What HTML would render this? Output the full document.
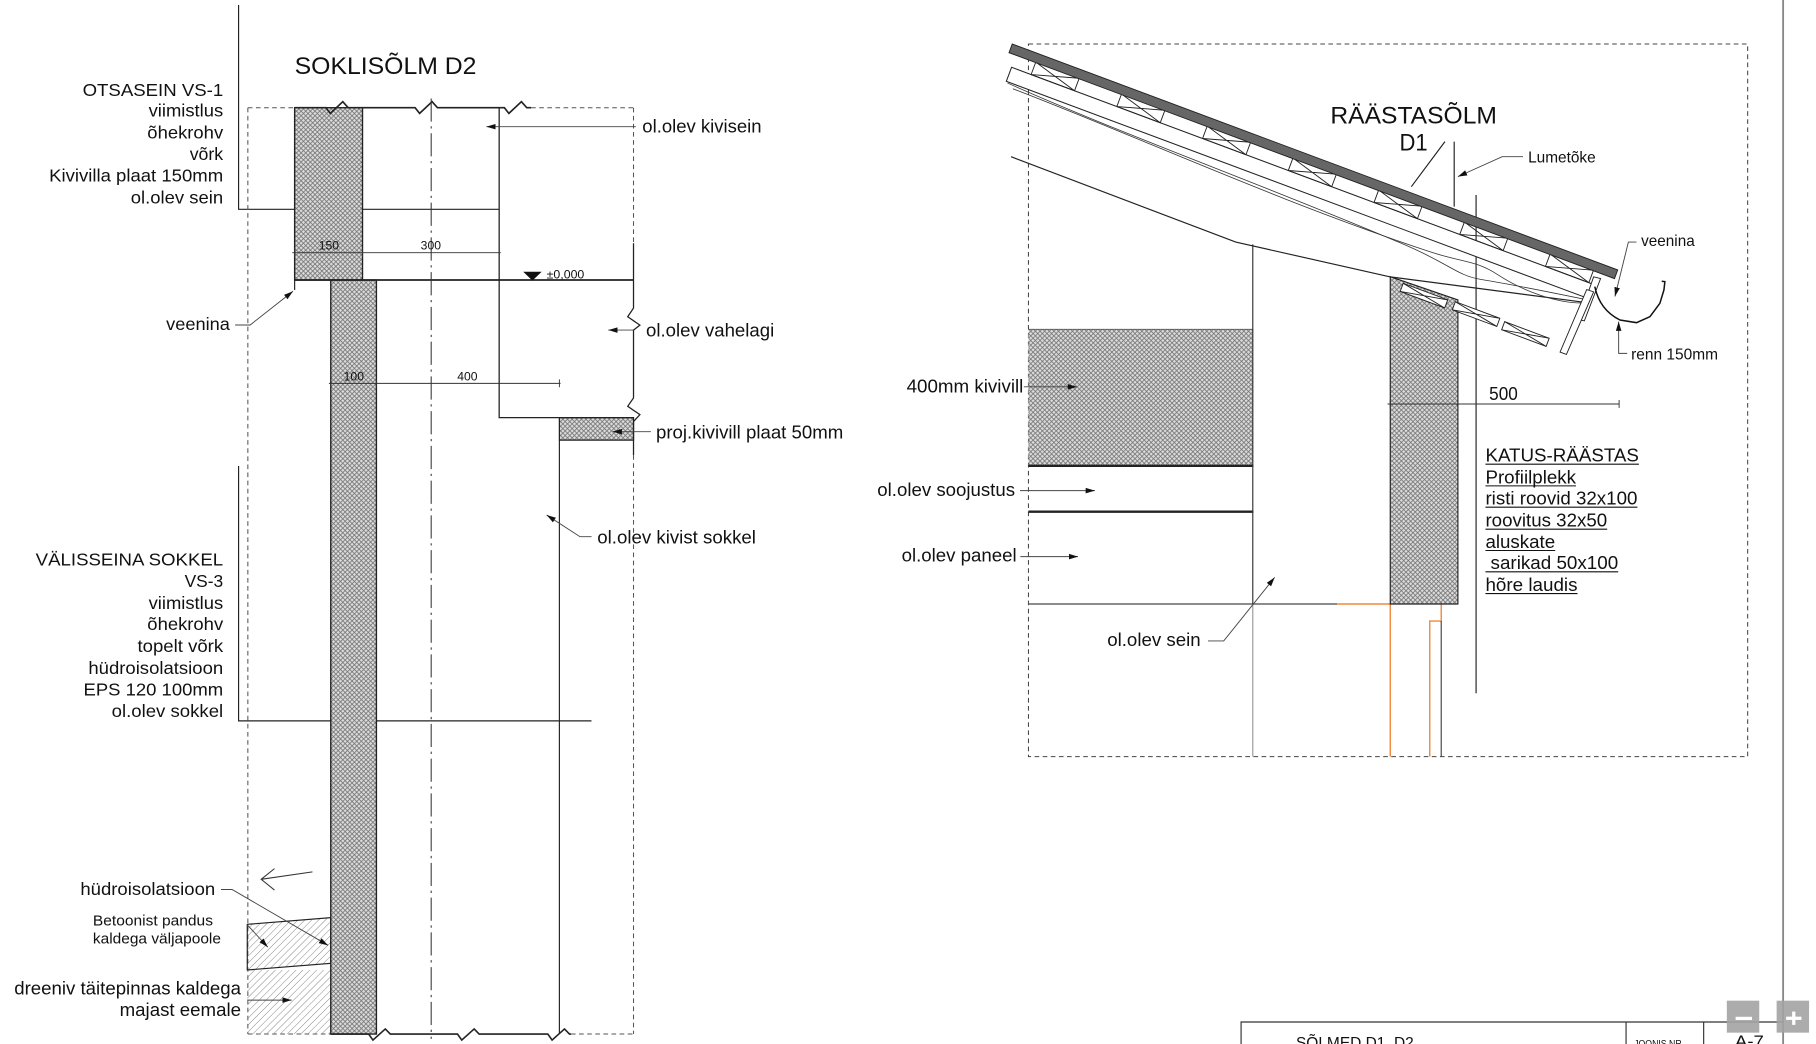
<!DOCTYPE html>
<html><head><meta charset="utf-8"><style>
html,body{margin:0;padding:0;background:#fff;overflow:hidden;}
svg{display:block;}
text{font-family:"Liberation Sans",Arial,sans-serif;fill:#111;}
</style></head><body>
<svg width="1816" height="1044" viewBox="0 0 1568 901.4" preserveAspectRatio="none" xmlns="http://www.w3.org/2000/svg">
<defs>
<pattern id="xh" width="4" height="4" patternUnits="userSpaceOnUse">
 <rect width="4" height="4" fill="#dcdcdc"/>
 <path d="M0,0L4,4M4,0L0,4" stroke="#737373" stroke-width="0.7"/>
</pattern>
<pattern id="dh" width="4.2" height="4.2" patternUnits="userSpaceOnUse" patternTransform="rotate(45)">
 <line x1="0" y1="0" x2="0" y2="4.2" stroke="#777" stroke-width="0.75"/>
</pattern>
<marker id="ah" markerWidth="8" markerHeight="6" refX="8" refY="3" orient="auto" markerUnits="userSpaceOnUse">
 <path d="M0,0.6L8,3L0,5.4z" fill="#111"/>
</marker>
</defs>
<rect width="1568" height="901.4" fill="#fff"/>

<!-- ================= LEFT: SOKLISÕLM D2 ================= -->
<text x="254.4" y="63.9" font-size="21" textLength="157" lengthAdjust="spacingAndGlyphs">SOKLISÕLM D2</text>

<g fill="none" stroke="#222" stroke-width="1">
 <path d="M206,4.3V180.7H431"/>
 <path d="M206,402.4V622.4H510.7"/>
</g>

<g fill="none" stroke="#555" stroke-width="0.9" stroke-dasharray="4 3">
 <path d="M214,93V892.8"/>
 <path d="M547,93V210"/>
 <path d="M547,393V892.8"/>
 <path d="M214,93H254.4"/>
 <path d="M458.6,93H547"/>
 <path d="M214,892.8H285.6"/>
 <path d="M493,892.8H547"/>
</g>

<!-- hatch fills -->
<polygon points="213.5,798.1 285.6,792.3 285.6,831.8 213.5,837.5" fill="url(#dh)" stroke="#222" stroke-width="1"/>
<rect x="213.5" y="837.5" width="72.1" height="55.3" fill="url(#dh)"/>
<rect x="254.4" y="93" width="58.6" height="148.8" fill="url(#xh)" stroke="#222" stroke-width="1.2"/>
<rect x="285.6" y="241.8" width="39.4" height="651" fill="url(#xh)" stroke="#222" stroke-width="1.2"/>
<rect x="483" y="360.6" width="64" height="19.4" fill="url(#xh)" stroke="#222" stroke-width="1.1"/>

<g fill="none" stroke="#222">
 <path stroke-width="1.4" d="M254.4,93H281.3L285.2,97.9L296,87.8L300.6,93H358.4L362.3,97.9L373.1,87.8L377.7,93H435.5L439.4,97.9L450.2,87.8L454.8,93H458.6"/>
 <path stroke-width="1.4" d="M285.6,892.8H318.3L322,898L332.7,888.4L337,892.8H395L398.7,898L409.4,888.4L413.7,892.8H473L476.7,898L487.4,888.4L491.7,892.8H493"/>
 <path stroke-width="1.1" d="M431,93V360.6H547"/>
 <path stroke-width="1.5" d="M254.4,241.8H547"/>
 <path stroke-width="1.1" d="M547,210V266L542,273.5L552.5,280.7L547,285V343.6L542,350.8L552.5,358L547,364V393"/>
 <path stroke-width="1" d="M483,380V892.8"/>
 <path stroke-width="1" d="M254.4,241.8V250.4"/>
</g>
<path d="M372.3,85V897" stroke="#333" stroke-width="0.9" stroke-dasharray="20 4 2 4" fill="none"/>

<!-- dimensions -->
<g stroke="#333" stroke-width="0.8" fill="none">
 <path d="M252.3,218.2H432.4M254.4,214.8v6.8M313,214.8v6.8M431,214.8v6.8"/>
 <path d="M284,331H484M285.6,327.6v6.8M325,327.6v6.8M483,327.6v6.8"/>
</g>
<g font-size="10.5" fill="#333" text-anchor="middle">
 <text x="284" y="215.5">150</text>
 <text x="372" y="215.5">300</text>
 <text x="305.5" y="328.5">100</text>
 <text x="403.6" y="328.5">400</text>
</g>
<polygon points="451.8,234.6 467.7,234.6 459.7,242.3" fill="#111"/>
<text x="472" y="240.4" font-size="10.5" textLength="32.5" lengthAdjust="spacingAndGlyphs">±0,000</text>

<!-- leaders left -->
<g fill="none" stroke="#444" stroke-width="0.8">
 <path d="M203,280.6H216L253,251.5" marker-end="url(#ah)"/>
 <path d="M549,109.4H420" marker-end="url(#ah)"/>
 <path d="M547,285H525.2" marker-end="url(#ah)"/>
 <path d="M562,372.7H529" marker-end="url(#ah)"/>
 <path d="M510.8,463.4H500.8L472,444.7" marker-end="url(#ah)"/>
 <path d="M190.8,768H200.4L283.3,816.2" marker-end="url(#ah)"/>
 <path d="M214,799L231.2,817.8" marker-end="url(#ah)"/>
 <path d="M214,863.5H251.8" marker-end="url(#ah)"/>
 <path d="M269.8,752.8L225.5,759.2M237,750L225.5,759.2L237,768.5" stroke="#333" stroke-width="0.9"/>
</g>

<!-- left labels -->
<g font-size="15" text-anchor="end">
 <text x="192.7" y="82.9" textLength="121.4" lengthAdjust="spacingAndGlyphs">OTSASEIN VS-1</text>
 <text x="192.7" y="100.7" textLength="64.4" lengthAdjust="spacingAndGlyphs">viimistlus</text>
 <text x="192.7" y="119.4" textLength="65.5" lengthAdjust="spacingAndGlyphs">õhekrohv</text>
 <text x="192.7" y="138.1" textLength="28.9" lengthAdjust="spacingAndGlyphs">võrk</text>
 <text x="192.7" y="156.9" textLength="150.3" lengthAdjust="spacingAndGlyphs">Kivivilla plaat 150mm</text>
 <text x="192.7" y="175.6" textLength="79.8" lengthAdjust="spacingAndGlyphs">ol.olev sein</text>
 <text x="198.5" y="285" textLength="55" lengthAdjust="spacingAndGlyphs">veenina</text>
 <text x="192.7" y="488.4" textLength="161.9" lengthAdjust="spacingAndGlyphs">VÄLISSEINA SOKKEL</text>
 <text x="192.7" y="507">VS-3</text>
 <text x="192.7" y="525.8" textLength="64.4" lengthAdjust="spacingAndGlyphs">viimistlus</text>
 <text x="192.7" y="544.1" textLength="65.5" lengthAdjust="spacingAndGlyphs">õhekrohv</text>
 <text x="192.7" y="562.8" textLength="74" lengthAdjust="spacingAndGlyphs">topelt võrk</text>
 <text x="192.7" y="581.8" textLength="116.4" lengthAdjust="spacingAndGlyphs">hüdroisolatsioon</text>
 <text x="192.7" y="600.5" textLength="120.6" lengthAdjust="spacingAndGlyphs">EPS 120 100mm</text>
 <text x="192.7" y="619.1" textLength="96.3" lengthAdjust="spacingAndGlyphs">ol.olev sokkel</text>
 <text x="185.8" y="772.7" textLength="116.4" lengthAdjust="spacingAndGlyphs">hüdroisolatsioon</text>
 <text x="208.1" y="858.7" font-size="16" textLength="195.8" lengthAdjust="spacingAndGlyphs">dreeniv täitepinnas kaldega</text>
 <text x="208.1" y="877.4" font-size="16" textLength="104.8" lengthAdjust="spacingAndGlyphs">majast eemale</text>
</g>
<g font-size="13" fill="#333">
 <text x="80.2" y="799.1" fill="#333" textLength="103.7" lengthAdjust="spacingAndGlyphs">Betoonist pandus</text>
 <text x="80.2" y="814.6" fill="#333" textLength="110.6" lengthAdjust="spacingAndGlyphs">kaldega väljapoole</text>
</g>
<g font-size="16">
 <text x="554.6" y="114.6" textLength="103" lengthAdjust="spacingAndGlyphs">ol.olev kivisein</text>
 <text x="557.8" y="290.7" textLength="110.7" lengthAdjust="spacingAndGlyphs">ol.olev vahelagi</text>
 <text x="566.4" y="378.5" textLength="161.7" lengthAdjust="spacingAndGlyphs">proj.kivivill plaat 50mm</text>
 <text x="515.7" y="469.3" textLength="137" lengthAdjust="spacingAndGlyphs">ol.olev kivist sokkel</text>
</g>

<!-- ================= RIGHT: RÄÄSTASÕLM D1 ================= -->
<rect x="888" y="38" width="621" height="615.3" fill="none" stroke="#444" stroke-width="0.9" stroke-dasharray="4 3"/>
<path d="M1539.6,0V901.4" stroke="#888" stroke-width="1.6"/>

<!-- wall blocks -->
<rect x="888" y="284.3" width="194.2" height="117.7" fill="url(#xh)"/>
<path d="M888,284.3H1082.2" stroke="#555" stroke-width="0.8"/>
<path d="M888,402.2H1082.2M888,441.8H1082.2" stroke="#222" stroke-width="2"/>
<path d="M888,521.5H1154.5" stroke="#666" stroke-width="1.3"/>
<path d="M1154.5,521.5H1200.4V653.3M1244.4,521.5V536.2H1234.5V653.3" stroke="#f0883a" stroke-width="1.2" fill="none"/>
<path d="M1244.4,536.2V653.3" stroke="#444" stroke-width="1"/>
<path d="M1081.7,211V521.5" stroke="#333" stroke-width="1"/>
<path d="M1081.7,521.5V653.3" stroke="#999" stroke-width="1"/>
<polygon points="1200.4,238.9 1258.8,259 1258.8,521.5 1200.4,521.5" fill="url(#xh)" stroke="#222" stroke-width="1"/>
<path d="M1274.5,168.4V598.6" stroke="#222" stroke-width="1"/>

<!-- rafter line -->
<path d="M873,135.3L1067,209L1200,239L1368,261" fill="none" stroke="#222" stroke-width="1"/>

<!-- roof layers -->
<g transform="translate(874,38) rotate(20.46)" fill="none" stroke="#222" stroke-width="0.8">
 <path d="M8,33 C120,40 250,38 380,44 C420,46 430,53 450,49 C470,45 500,40 545,33" stroke="#333" stroke-width="0.7"/>
 <path d="M14,36 C130,37 260,47 400,42 C430,41 440,35 462,40 S520,47 545,35" stroke="#333" stroke-width="0.7"/>
 <rect x="6.5" y="19" width="538.5" height="13" fill="#fff" stroke-width="0.9"/>
 <g>
  <rect x="24.5" y="7.5" width="40" height="11.5"/><path d="M24.5,7.5l40,11.5m0,-11.5l-40,11.5"/>
  <rect x="103.5" y="7.5" width="40" height="11.5"/><path d="M103.5,7.5l40,11.5m0,-11.5l-40,11.5"/>
  <rect x="182.5" y="7.5" width="40" height="11.5"/><path d="M182.5,7.5l40,11.5m0,-11.5l-40,11.5"/>
  <rect x="261.5" y="7.5" width="40" height="11.5"/><path d="M261.5,7.5l40,11.5m0,-11.5l-40,11.5"/>
  <rect x="340.5" y="7.5" width="40" height="11.5"/><path d="M340.5,7.5l40,11.5m0,-11.5l-40,11.5"/>
  <rect x="419.5" y="7.5" width="40" height="11.5"/><path d="M419.5,7.5l40,11.5m0,-11.5l-40,11.5"/>
  <rect x="498.5" y="7.5" width="40" height="11.5"/><path d="M498.5,7.5l40,11.5m0,-11.5l-40,11.5"/>
 </g>
 <rect x="0" y="0" width="558" height="8" fill="#666" stroke="#222" stroke-width="0.8"/>
</g>

<!-- under-eave boxes -->
<g fill="#fff" stroke="#222" stroke-width="0.8">
 <g transform="translate(1211.6,244.6) rotate(20.46)"><rect width="41" height="7.5"/><path d="M0,0L41,7.5M41,0L0,7.5" fill="none"/></g>
 <g transform="translate(1256.6,260.5) rotate(20.46)"><rect width="41" height="7.5"/><path d="M0,0L41,7.5M41,0L0,7.5" fill="none"/></g>
 <g transform="translate(1299.2,277.7) rotate(20.46)"><rect width="41" height="7.5"/><path d="M0,0L41,7.5M41,0L0,7.5" fill="none"/></g>
 <polygon points="1376,239 1382,240.5 1368,277 1363,276"/>
 <polygon points="1370,250 1376,252 1352.5,306 1347,304"/>
</g>
<!-- gutter -->
<path d="M1377,247.5C1380,262 1388,271 1398.7,276.3L1413,278.6L1424.6,273.4L1433.2,261.9L1436.7,250.4L1437.5,243.2L1434.8,242.8" fill="none" stroke="#111" stroke-width="1.3"/>
<!-- snow guard -->
<path d="M1255.6,122.3V178.4M1247.6,122.3L1218.6,161.2" stroke="#222" stroke-width="1" fill="none"/>

<!-- dimension 500 -->
<path d="M1198.1,348.8H1398.1M1200.4,345.4v6.8M1398,345.4v6.8" stroke="#333" stroke-width="0.8" fill="none"/>
<text x="1285.8" y="345.3" font-size="16" textLength="24.7" lengthAdjust="spacingAndGlyphs">500</text>

<!-- right leaders -->
<g fill="none" stroke="#444" stroke-width="0.8">
 <path d="M1315,135.3H1297L1258.8,152.5" marker-end="url(#ah)"/>
 <path d="M1413,209H1406L1394.4,256" marker-end="url(#ah)"/>
 <path d="M1405,305.1H1397.6V277.7" marker-end="url(#ah)"/>
 <path d="M884,334H929.9" marker-end="url(#ah)"/>
 <path d="M880.7,423.6H945.4" marker-end="url(#ah)"/>
 <path d="M881,480.6H930.8" marker-end="url(#ah)"/>
 <path d="M1043,553.4H1056.6L1100.6,498.5" marker-end="url(#ah)"/>
</g>

<text x="1148.7" y="106.5" font-size="21" textLength="143.8" lengthAdjust="spacingAndGlyphs">RÄÄSTASÕLM</text>
<text x="1208.4" y="130.1" font-size="21" textLength="24.3" lengthAdjust="spacingAndGlyphs">D1</text>
<g font-size="13.5">
 <text x="1319.4" y="140.4" textLength="58.4" lengthAdjust="spacingAndGlyphs">Lumetõke</text>
 <text x="1417" y="212.4" textLength="46.3" lengthAdjust="spacingAndGlyphs">veenina</text>
 <text x="1408.4" y="310.3" textLength="75" lengthAdjust="spacingAndGlyphs">renn 150mm</text>
</g>
<g font-size="16" text-anchor="end">
 <text x="883.6" y="339" textLength="100.8" lengthAdjust="spacingAndGlyphs">400mm kivivill</text>
 <text x="876.4" y="428.2" textLength="118.9" lengthAdjust="spacingAndGlyphs">ol.olev soojustus</text>
 <text x="877.8" y="484.9" textLength="99.3" lengthAdjust="spacingAndGlyphs">ol.olev paneel</text>
 <text x="1036.7" y="557.8" textLength="80.7" lengthAdjust="spacingAndGlyphs">ol.olev sein</text>
</g>
<g font-size="16">
 <text x="1282.6" y="398.6" textLength="132.5" lengthAdjust="spacingAndGlyphs">KATUS-RÄÄSTAS</text>
 <text x="1282.6" y="417.3" textLength="78.2" lengthAdjust="spacingAndGlyphs">Profiilplekk</text>
 <text x="1282.6" y="435.7" textLength="131.2" lengthAdjust="spacingAndGlyphs">risti roovid 32x100</text>
 <text x="1282.6" y="454.7" textLength="105.1" lengthAdjust="spacingAndGlyphs">roovitus 32x50</text>
 <text x="1282.6" y="473.1" textLength="60.2" lengthAdjust="spacingAndGlyphs">aluskate</text>
 <text x="1287" y="491.5" textLength="110.2" lengthAdjust="spacingAndGlyphs">sarikad 50x100</text>
 <text x="1282.6" y="510.3" textLength="79.5" lengthAdjust="spacingAndGlyphs">hõre laudis</text>
</g>
<g stroke="#111" stroke-width="0.9">
 <path d="M1282.6,400.8h132.5M1282.6,419.5h78.2M1282.6,437.9h131.2M1282.6,456.9h105.1M1282.6,475.3h60.2M1282.6,493.7h114.6M1282.6,512.5h79.5"/>
</g>

<!-- title block -->
<path d="M1071.6,901.4V882.4H1539.6M1404,882.4V901.4M1471,882.4V901.4" fill="none" stroke="#333" stroke-width="1"/>
<text x="1119" y="905" font-size="13.5" textLength="101.7" lengthAdjust="spacingAndGlyphs">SÕLMED D1, D2</text>
<text x="1411" y="904" font-size="8.5" textLength="41" lengthAdjust="spacingAndGlyphs">JOONIS NR</text>
<text x="1498" y="904" font-size="14" textLength="25" lengthAdjust="spacingAndGlyphs">A-7</text>

<!-- zoom buttons -->
<rect x="1491" y="864" width="28" height="27.6" fill="#a3a3a3" fill-opacity="0.9"/>
<rect x="1498.6" y="877.9" width="14.1" height="2.8" fill="#fff"/>
<rect x="1534" y="864" width="28" height="27.6" fill="#a3a3a3" fill-opacity="0.9"/>
<rect x="1542.2" y="877.8" width="13.2" height="2.8" fill="#fff"/>
<rect x="1547.4" y="873.4" width="2.8" height="11.5" fill="#fff"/>
</svg>
</body></html>
